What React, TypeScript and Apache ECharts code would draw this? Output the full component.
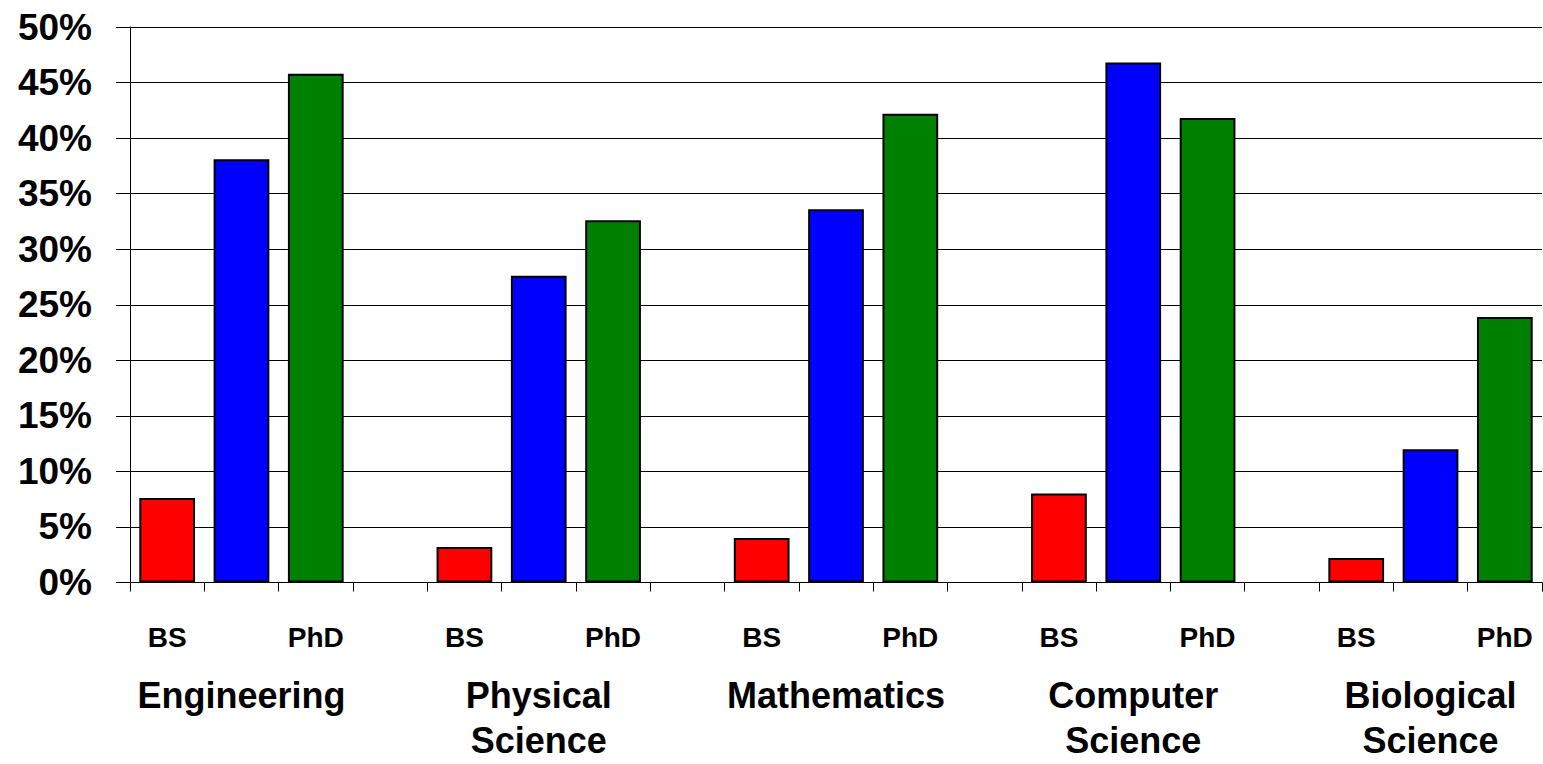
import React, { useEffect, useRef } from "react";
import * as echarts from "echarts";

const fields = ["Engineering", "Physical\nScience", "Mathematics", "Computer\nScience", "Biological\nScience"];
const degreeLabels = ["BS", "", "PhD"];
const bsValues = [7.6, 3.2, 4.0, 8.0, 2.2];
const msValues = [38.1, 27.6, 33.6, 46.8, 12.0];
const phdValues = [45.8, 32.6, 42.2, 41.8, 23.9];
const yTicks = { min: 0, max: 50, interval: 5 };

const FONT = "'Liberation Sans', Arial, Helvetica, sans-serif";

export default function App() {
  const ref = useRef<HTMLDivElement>(null);

  useEffect(() => {
    if (!ref.current) return;
    const chart = echarts.init(ref.current, null, { renderer: "svg" });

    const tickLabels: string[] = [];
    const groupLabels: string[] = [];
    const bsData: (number | string)[] = [];
    const msData: (number | string)[] = [];
    const phdData: (number | string)[] = [];
    fields.forEach((f, i) => {
      tickLabels.push(degreeLabels[0], degreeLabels[1], degreeLabels[2]);
      groupLabels.push("", f, "");
      bsData.push(bsValues[i], "-", "-");
      msData.push("-", msValues[i], "-");
      phdData.push("-", "-", phdValues[i]);
      if (i < fields.length - 1) {
        tickLabels.push("");
        groupLabels.push("");
        bsData.push("-");
        msData.push("-");
        phdData.push("-");
      }
    });
    const idx = tickLabels.map((_, i) => String(i));

    const barBase = {
      type: "bar" as const,
      stack: "all",
      barWidth: "75%",
      xAxisIndex: 0,
    };

    chart.setOption({
      animation: false,
      backgroundColor: "#ffffff",
      grid: { left: 130, right: 1, top: 27, bottom: 181.5, containLabel: false },
      xAxis: [
        {
          type: "category",
          data: idx,
          boundaryGap: true,
          axisLine: { show: true, lineStyle: { color: "#000", width: 1 } },
          axisTick: { show: true, interval: 0, length: 9, lineStyle: { color: "#000", width: 1 } },
          axisLabel: {
            interval: 0,
            margin: 40,
            formatter: (_v: string, i: number) => tickLabels[i],
            color: "#000",
            fontFamily: FONT,
            fontWeight: "bold",
            fontSize: 28,
            lineHeight: 30,
          },
        },
        {
          type: "category",
          data: idx,
          position: "bottom",
          boundaryGap: true,
          axisLine: { show: false },
          axisTick: { show: false },
          axisLabel: {
            interval: 0,
            margin: 90,
            formatter: (_v: string, i: number) => groupLabels[i],
            color: "#000",
            fontFamily: FONT,
            fontWeight: "bold",
            fontSize: 36,
            lineHeight: 45,
            align: "center",
          },
        },
      ],
      yAxis: {
        type: "value",
        min: yTicks.min,
        max: yTicks.max,
        interval: yTicks.interval,
        axisLine: { show: true, lineStyle: { color: "#000", width: 1 } },
        axisTick: { show: true, length: 14, lineStyle: { color: "#000", width: 1 } },
        splitLine: { show: true, lineStyle: { color: "#000", width: 1 } },
        axisLabel: {
          margin: 38,
          formatter: "{value}%",
          color: "#000",
          fontFamily: FONT,
          fontWeight: "bold",
          fontSize: 37,
        },
      },
      series: [
        { ...barBase, name: "BS", data: bsData, itemStyle: { color: "#ff0000", borderColor: "#000", borderWidth: 2 } },
        { ...barBase, name: "MS", data: msData, itemStyle: { color: "#0000ff", borderColor: "#000", borderWidth: 2 } },
        { ...barBase, name: "PhD", data: phdData, itemStyle: { color: "#008000", borderColor: "#000", borderWidth: 2 } },
      ],
    });

    return () => chart.dispose();
  }, []);

  return (
    <div
      ref={ref}
      style={{ position: "absolute", left: 0, top: 0, width: 1543, height: 764 }}
    />
  );
}
